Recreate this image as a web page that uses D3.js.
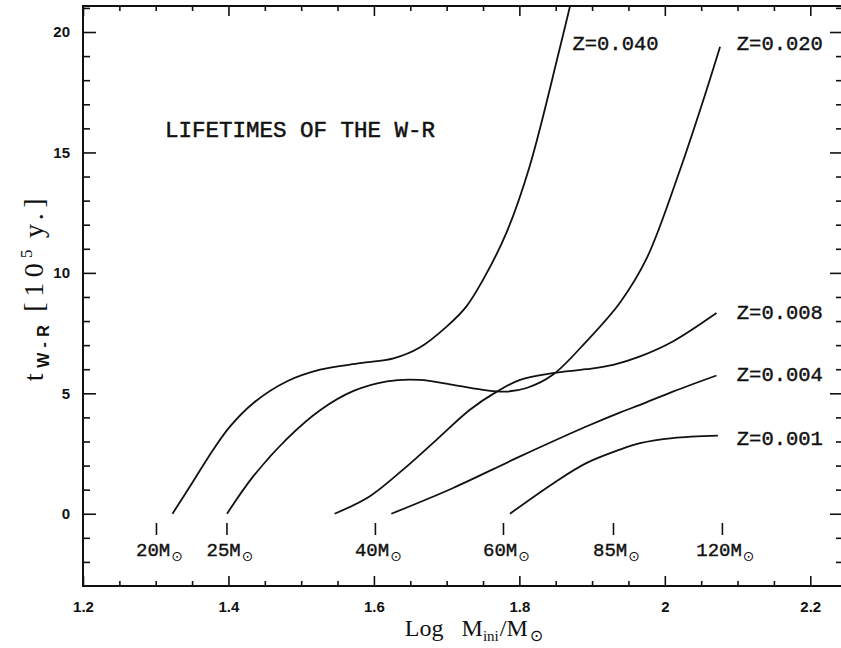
<!DOCTYPE html>
<html lang="en">
<head>
<meta charset="utf-8">
<title>W-R lifetimes</title>
<script src="https://d3js.org/d3.v7.min.js"></script>
<style>
  html, body { margin: 0; background: #fff; overflow: hidden; }
  svg { display: block; }
  .tick text { font-family: "Liberation Sans", Arial, sans-serif; font-weight: bold; font-size: 15px; fill: #111; }
  .tick line { stroke: #111; stroke-width: 1.6; }
</style>
</head>
<body>
<script>

// log M_ini vs. W-R lifetime (10^5 yr)
var z040 = [[1.323,0],[1.347,1.13],[1.379,2.66],[1.402,3.62],[1.434,4.59],[1.480,5.49],
            [1.526,5.98],[1.581,6.25],[1.627,6.45],[1.663,6.90],[1.700,7.77],[1.727,8.60],
            [1.750,9.71],[1.782,11.65],[1.814,14.41],[1.855,19.25],[1.877,22.0]];
var z020 = [[1.398,0],[1.434,1.55],[1.480,3.10],[1.526,4.30],[1.572,5.10],[1.618,5.50],
            [1.663,5.56],[1.709,5.35],[1.755,5.12],[1.782,5.07],[1.810,5.22],[1.846,5.77],
            [1.892,7.15],[1.938,8.75],[1.975,10.6],[2.020,14.2],[2.053,17.18],[2.076,19.39]];
var z008 = [[1.546,0],[1.594,0.72],[1.640,1.83],[1.686,3.07],[1.732,4.32],[1.769,5.07],
            [1.801,5.56],[1.846,5.84],[1.892,6.00],[1.929,6.18],[1.966,6.53],[2.011,7.15],[2.071,8.33]];
var z004 = [[1.624,0],[1.709,1.07],[1.801,2.38],[1.892,3.62],[1.938,4.20],[1.966,4.52],
            [2.011,5.07],[2.071,5.74]];
var z001 = [[1.787,0],[1.847,1.27],[1.892,2.10],[1.938,2.66],[1.966,2.93],[2.011,3.14],[2.073,3.24]];

var seriesNames = ["Z=0.040", "Z=0.020", "Z=0.008", "Z=0.004", "Z=0.001"];
var seriesData = [z040, z020, z008, z004, z001];

var massMarks = [20, 25, 40, 60, 85, 120];
var xTicks = [1.2, 1.4, 1.6, 1.8, 2, 2.2];
var yTicks = [0, 5, 10, 15, 20];

var width = 841, height = 648;

var svg = d3.select("body").append("svg")
    .attr("width", width)
    .attr("height", height);

var x = d3.scaleLinear().domain([1.2, 2.245]).range([83, 843]);
var y = d3.scaleLinear().domain([-3, 21.08]).range([586, 6]);

// minor ticks every 0.05 in x, every 1 in y
var xMinor = d3.range(125, 225, 5).map(function(d) { return d / 100; })
    .filter(function(d) { return xTicks.indexOf(d) < 0; });
var yMinor = d3.range(-2, 22).filter(function(d) { return yTicks.indexOf(d) < 0; });

function noDomain(g) { g.select(".domain").remove(); }

// ticks on all four sides, pointing inward
svg.append("g").attr("transform", "translate(0," + y.range()[0] + ")")
  .call(d3.axisBottom(x).tickValues(xTicks).tickSize(-10).tickPadding(15)
        .tickFormat(function(d) { return String(d); }))
  .call(noDomain);
svg.append("g").attr("transform", "translate(0," + y.range()[0] + ")")
  .call(d3.axisBottom(x).tickValues(xMinor).tickSize(-5).tickFormat(""))
  .call(noDomain);
svg.append("g").attr("transform", "translate(0," + y.range()[1] + ")")
  .call(d3.axisTop(x).tickValues(xTicks).tickSize(-10).tickFormat(""))
  .call(noDomain);
svg.append("g").attr("transform", "translate(0," + y.range()[1] + ")")
  .call(d3.axisTop(x).tickValues(xMinor).tickSize(-5).tickFormat(""))
  .call(noDomain);

svg.append("g").attr("transform", "translate(" + x.range()[0] + ",0)")
  .call(d3.axisLeft(y).tickValues(yTicks).tickSize(-13).tickPadding(13)
        .tickFormat(function(d) { return String(d); }))
  .call(noDomain);
svg.append("g").attr("transform", "translate(" + x.range()[0] + ",0)")
  .call(d3.axisLeft(y).tickValues(yMinor).tickSize(-7).tickFormat(""))
  .call(noDomain);
svg.append("g").attr("transform", "translate(" + x.range()[1] + ",0)")
  .call(d3.axisRight(y).tickValues(yTicks).tickSize(-13).tickFormat(""))
  .call(noDomain);
svg.append("g").attr("transform", "translate(" + x.range()[1] + ",0)")
  .call(d3.axisRight(y).tickValues(yMinor).tickSize(-7).tickFormat(""))
  .call(noDomain);

// frame
svg.append("rect")
  .attr("x", x.range()[0]).attr("y", y.range()[1])
  .attr("width", x.range()[1] - x.range()[0])
  .attr("height", y.range()[0] - y.range()[1])
  .attr("fill", "none").attr("stroke", "#111").attr("stroke-width", 2);

svg.append("clipPath").attr("id", "plot")
  .append("rect")
  .attr("x", x.range()[0]).attr("y", y.range()[1])
  .attr("width", x.range()[1] - x.range()[0])
  .attr("height", y.range()[0] - y.range()[1]);

var line = d3.line()
  .x(function(d) { return x(d[0]); })
  .y(function(d) { return y(d[1]); })
  .curve(d3.curveCatmullRom.alpha(0.5));

svg.append("g").attr("clip-path", "url(#plot)")
  .selectAll("path")
  .data(seriesData)
  .enter().append("path")
  .attr("d", line)
  .attr("fill", "none")
  .attr("stroke", "#111")
  .attr("stroke-width", 1.8);

// curve labels (anchor in data units)
var labelPos = [[1.873, 19.25], [2.099, 19.25], [2.099, 8.1], [2.099, 5.5], [2.099, 2.85]];
svg.append("g").selectAll("text")
  .data(seriesNames)
  .enter().append("text")
  .attr("x", function(d, i) { return x(labelPos[i][0]); })
  .attr("y", function(d, i) { return y(labelPos[i][1]); })
  .attr("font-family", "Liberation Mono, monospace")
  .attr("font-size", 20.5)
  .attr("fill", "#111").attr("stroke", "#111").attr("stroke-width", 0.4)
  .text(function(d) { return d; });

svg.append("text")
  .attr("x", 165).attr("y", 137)
  .attr("font-family", "Liberation Mono, monospace")
  .attr("font-size", 22.5)
  .attr("fill", "#111").attr("stroke", "#111").attr("stroke-width", 0.5)
  .text("LIFETIMES OF THE W-R");

// initial-mass markers along the zero line
var marks = svg.append("g").selectAll("g")
  .data(massMarks)
  .enter().append("g")
  .attr("transform", function(d) { return "translate(" + x(Math.log10(d)) + ",0)"; });

marks.append("line")
  .attr("y1", 523).attr("y2", 535)
  .attr("stroke", "#111").attr("stroke-width", 1.6);

var mt = marks.append("text")
  .attr("x", 3).attr("y", 556)
  .attr("text-anchor", "middle")
  .attr("font-family", "Liberation Mono, monospace")
  .attr("font-size", 19)
  .attr("fill", "#111").attr("stroke", "#111").attr("stroke-width", 0.4);
mt.append("tspan").text(function(d) { return d + "M"; });
mt.append("tspan").attr("dy", 5).attr("dx", 1).attr("font-size", 14).attr("stroke-width", 0)
  .attr("font-family", "DejaVu Sans, sans-serif").text("\u2299");

// axis titles
var xt = svg.append("text")
  .attr("x", 474).attr("y", 636)
  .attr("text-anchor", "middle")
  .attr("font-family", "Liberation Serif, serif")
  .attr("font-size", 24)
  .attr("fill", "#111");
xt.append("tspan").text("Log");
xt.append("tspan").attr("dx", 18).text("M");
xt.append("tspan").attr("dy", 5).attr("font-size", 15).text("ini");
xt.append("tspan").attr("dy", -5).attr("dx", 1).text("/M");
xt.append("tspan").attr("dy", 5).attr("dx", 2).attr("font-size", 16)
  .attr("font-family", "DejaVu Sans, sans-serif").text("\u2299");

var yt = svg.append("text")
  .attr("transform", "translate(43,287) rotate(-90)")
  .attr("text-anchor", "middle")
  .attr("font-family", "Liberation Serif, serif")
  .attr("font-size", 28)
  .attr("letter-spacing", 5.5)
  .attr("fill", "#111");
yt.append("tspan").text("t");
yt.append("tspan").attr("dy", 6).attr("font-size", 16)
  .attr("font-family", "Liberation Sans, sans-serif").attr("font-weight", "bold").text("W-R");
yt.append("tspan").attr("dy", -6).attr("dx", 8).text("[10");
yt.append("tspan").attr("dy", -11).attr("font-size", 17).text("5");
yt.append("tspan").attr("dy", 11).attr("dx", 6).text("y.]");

</script>
</body>
</html>
